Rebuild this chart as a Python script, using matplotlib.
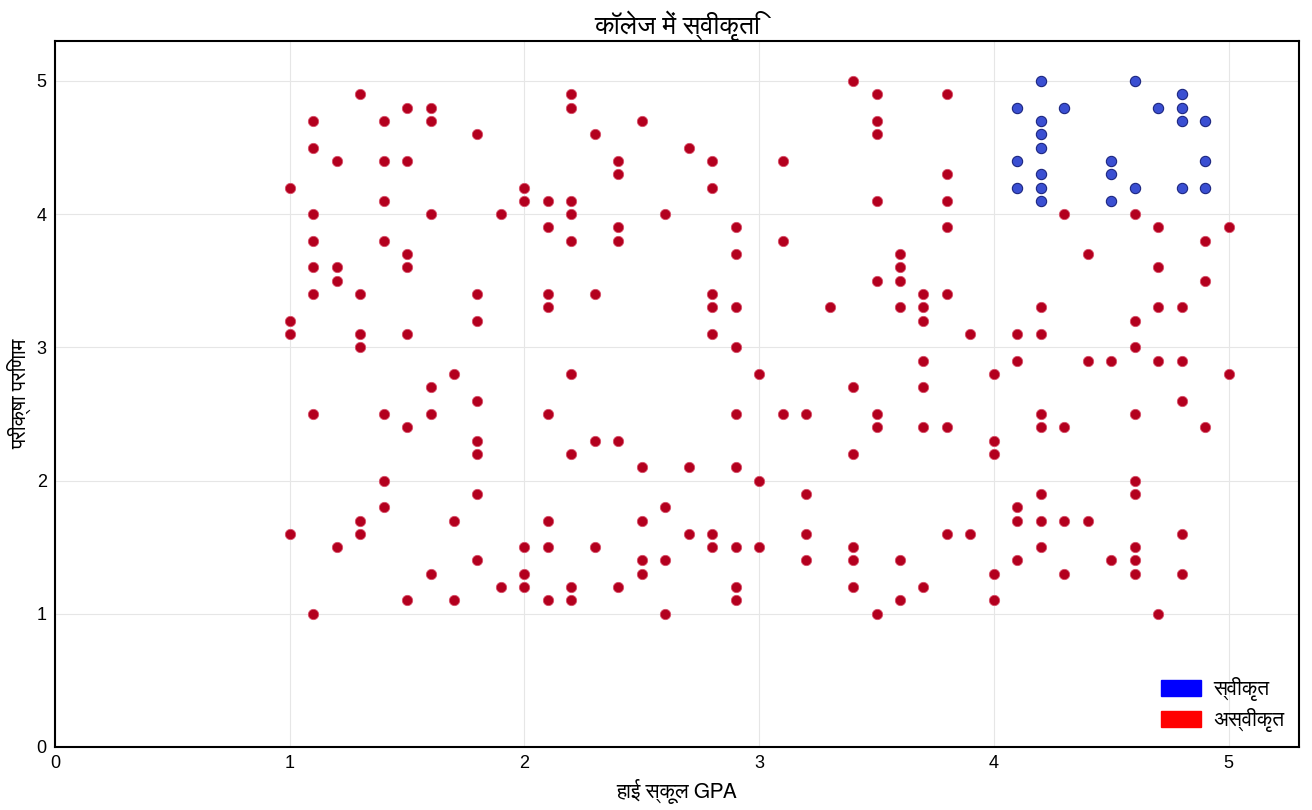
import matplotlib
matplotlib.use("Agg")
import matplotlib.pyplot as plt
from matplotlib.patches import Patch
from matplotlib import font_manager
from matplotlib.ft2font import FT2Font

# ---------------- data ----------------
title_text = "कॉलेज में स्वीकृति"
xlabel_text = "हाई स्कूल GPA"
ylabel_text = "परीक्षा परिणाम"
legend_labels = ["स्वीकृत", "अस्वीकृत"]
x_ticks = [0, 1, 2, 3, 4, 5]
y_ticks = [0, 1, 2, 3, 4, 5]

accepted_gpa = [4.1, 4.1, 4.1,
                4.2, 4.2, 4.2, 4.2, 4.2, 4.2, 4.2,
                4.3,
                4.5, 4.5, 4.5,
                4.6, 4.6,
                4.7,
                4.8, 4.8, 4.8, 4.8,
                4.9, 4.9, 4.9]
accepted_exam = [4.8, 4.4, 4.2,
                 5.0, 4.7, 4.6, 4.5, 4.3, 4.2, 4.1,
                 4.8,
                 4.4, 4.3, 4.1,
                 5.0, 4.2,
                 4.8,
                 4.9, 4.8, 4.7, 4.2,
                 4.7, 4.4, 4.2]

rejected_gpa = [
    1.0, 1.0, 1.0, 1.0,
    1.1, 1.1, 1.1, 1.1, 1.1, 1.1, 1.1, 1.1,
    1.2, 1.2, 1.2, 1.2,
    1.3, 1.3, 1.3, 1.3, 1.3, 1.3,
    1.4, 1.4, 1.4, 1.4, 1.4, 1.4, 1.4,
    1.5, 1.5, 1.5, 1.5, 1.5, 1.5, 1.5,
    1.6, 1.6, 1.6, 1.6, 1.6, 1.6,
    1.7, 1.7, 1.7,
    1.8, 1.8, 1.8, 1.8, 1.8, 1.8, 1.8, 1.8,
    1.9, 1.9,
    2.0, 2.0, 2.0, 2.0, 2.0,
    2.1, 2.1, 2.1, 2.1, 2.1, 2.1, 2.1, 2.1,
    2.2, 2.2, 2.2, 2.2, 2.2, 2.2, 2.2, 2.2, 2.2,
    2.3, 2.3, 2.3, 2.3,
    2.4, 2.4, 2.4, 2.4, 2.4, 2.4,
    2.5, 2.5, 2.5, 2.5, 2.5,
    2.6, 2.6, 2.6, 2.6,
    2.7, 2.7, 2.7,
    2.8, 2.8, 2.8, 2.8, 2.8, 2.8, 2.8,
    2.9, 2.9, 2.9, 2.9, 2.9, 2.9, 2.9, 2.9, 2.9,
    3.0, 3.0, 3.0,
    3.1, 3.1, 3.1,
    3.2, 3.2, 3.2, 3.2,
    3.3,
    3.4, 3.4, 3.4, 3.4, 3.4, 3.4,
    3.5, 3.5, 3.5, 3.5, 3.5, 3.5, 3.5, 3.5,
    3.6, 3.6, 3.6, 3.6, 3.6, 3.6,
    3.7, 3.7, 3.7, 3.7, 3.7, 3.7, 3.7,
    3.8, 3.8, 3.8, 3.8, 3.8, 3.8, 3.8,
    3.9, 3.9,
    4.0, 4.0, 4.0, 4.0, 4.0,
    4.1, 4.1, 4.1, 4.1, 4.1,
    4.2, 4.2, 4.2, 4.2, 4.2, 4.2, 4.2,
    4.3, 4.3, 4.3, 4.3,
    4.4, 4.4, 4.4,
    4.5, 4.5,
    4.6, 4.6, 4.6, 4.6, 4.6, 4.6, 4.6, 4.6, 4.6,
    4.7, 4.7, 4.7, 4.7, 4.7,
    4.8, 4.8, 4.8, 4.8, 4.8,
    4.9, 4.9, 4.9,
    5.0, 5.0,
]
rejected_exam = [
    4.2, 3.2, 3.1, 1.6,
    4.7, 4.5, 4.0, 3.8, 3.6, 3.4, 2.5, 1.0,
    4.4, 3.6, 3.5, 1.5,
    4.9, 3.4, 3.1, 3.0, 1.7, 1.6,
    4.7, 4.4, 4.1, 3.8, 2.5, 2.0, 1.8,
    4.8, 4.4, 3.7, 3.6, 3.1, 2.4, 1.1,
    4.8, 4.7, 4.0, 2.7, 2.5, 1.3,
    2.8, 1.7, 1.1,
    4.6, 3.4, 3.2, 2.6, 2.3, 2.2, 1.9, 1.4,
    4.0, 1.2,
    4.2, 4.1, 1.5, 1.3, 1.2,
    4.1, 3.9, 3.4, 3.3, 2.5, 1.7, 1.5, 1.1,
    4.9, 4.8, 4.1, 4.0, 3.8, 2.8, 2.2, 1.2, 1.1,
    4.6, 3.4, 2.3, 1.5,
    4.4, 4.3, 3.9, 3.8, 2.3, 1.2,
    4.7, 2.1, 1.7, 1.4, 1.3,
    4.0, 1.8, 1.4, 1.0,
    4.5, 2.1, 1.6,
    4.4, 4.2, 3.4, 3.3, 3.1, 1.6, 1.5,
    3.9, 3.7, 3.3, 3.0, 2.5, 2.1, 1.5, 1.2, 1.1,
    2.8, 2.0, 1.5,
    4.4, 3.8, 2.5,
    2.5, 1.9, 1.6, 1.4,
    3.3,
    5.0, 2.7, 2.2, 1.5, 1.4, 1.2,
    4.9, 4.7, 4.6, 4.1, 3.5, 2.5, 2.4, 1.0,
    3.7, 3.6, 3.5, 3.3, 1.4, 1.1,
    3.4, 3.3, 3.2, 2.9, 2.7, 2.4, 1.2,
    4.9, 4.3, 4.1, 3.9, 3.4, 2.4, 1.6,
    3.1, 1.6,
    2.8, 2.3, 2.2, 1.3, 1.1,
    3.1, 2.9, 1.8, 1.7, 1.4,
    3.3, 3.1, 2.5, 2.4, 1.9, 1.7, 1.5,
    4.0, 2.4, 1.7, 1.3,
    3.7, 2.9, 1.7,
    2.9, 1.4,
    4.0, 3.2, 3.0, 2.5, 2.0, 1.9, 1.5, 1.4, 1.3,
    3.9, 3.6, 3.3, 2.9, 1.0,
    3.3, 2.9, 2.6, 1.6, 1.3,
    3.8, 3.5, 2.4,
    3.9, 2.8,
]

# ---------------- fonts ----------------
def find_devanagari_family():
    preferred = []
    others = []
    for f in font_manager.fontManager.ttflist:
        try:
            ft = FT2Font(f.fname)
            if ft.get_char_index(0x0915) and ft.get_char_index(0x093F):
                if "Sans" in f.name:
                    preferred.append(f.name)
                else:
                    others.append(f.name)
        except Exception:
            pass
    for name in preferred + others:
        return name
    return None

deva = find_devanagari_family()
deva_fam = ([deva] if deva else []) + ["Liberation Sans", "DejaVu Sans"]
latin_fam = ["Liberation Sans", "DejaVu Sans"]
plt.rcParams["font.family"] = deva_fam

# ---------------- plot ----------------
fig = plt.figure(figsize=(13.12, 8.10), dpi=100)
ax = fig.add_axes([0.0419, 0.0778, 0.9482, 0.8716])

ax.scatter(rejected_gpa, rejected_exam, s=55, facecolor="#b3001e",
           edgecolor="#d8506a", linewidths=0.6, zorder=3)
ax.scatter(accepted_gpa, accepted_exam, s=55, facecolor="#3a4fd2",
           edgecolor="#1c2680", linewidths=0.8, zorder=3)

ax.set_xlim(0, 5.3)
ax.set_ylim(0, 5.3)
ax.set_xticks(x_ticks)
ax.set_yticks(y_ticks)
ax.tick_params(length=0, labelsize=13, pad=6)
for lab in ax.get_xticklabels() + ax.get_yticklabels():
    lab.set_family(latin_fam)

ax.grid(True, color="#e6e6e6", linewidth=0.8, zorder=0)
ax.set_axisbelow(True)
for sp in ax.spines.values():
    sp.set_color("black")
    sp.set_linewidth(1.5)

ax.set_title(title_text, fontsize=19, pad=5, family=deva_fam)
ax.set_xlabel(xlabel_text, fontsize=15, labelpad=5, family=deva_fam)
ax.set_ylabel(ylabel_text, fontsize=15, labelpad=4, family=deva_fam)

handles = [Patch(facecolor="#0000ff", edgecolor="#0000ff"),
           Patch(facecolor="#ff0000", edgecolor="#ff0000")]
ax.legend(handles, legend_labels, loc="lower right", frameon=False,
          handlelength=1.9, handleheight=0.8, handletextpad=0.6,
          borderaxespad=0.3, labelspacing=0.35,
          prop={"family": deva_fam, "size": 15})

fig.savefig("out.png", dpi=100, facecolor="white")
